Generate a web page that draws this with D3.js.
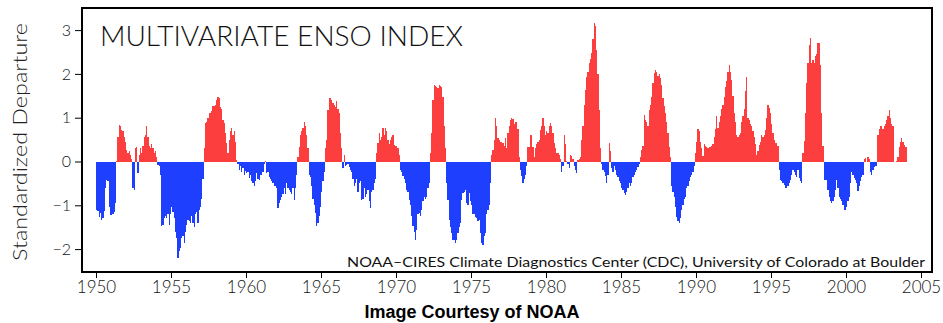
<!DOCTYPE html>
<html lang="en">
<head>
<meta charset="UTF-8">
<title>Multivariate ENSO Index</title>
<style>
    body, html { margin: 0; padding: 0; background: #fff; overflow: hidden; }
    svg { display: block; overflow: visible; }
</style>
</head>
<body>
<svg id="svg" width="943" height="323"></svg>
<script src="https://d3js.org/d3.v7.min.js"></script>
<script>
// monthly MEI values, one row per year
const startYear = 1950
const mei1950s = [
    -1.10, -1.12, -1.26, -1.18, -1.33, -1.29, -1.12, -0.60, -0.42, -0.45, -1.05, -1.22,
    -1.22, -1.20, -1.15, -0.95, 0.02, 0.55, 0.84, 0.80, 0.72, 0.70, 0.55, 0.45,
    0.27, 0.20, 0.25, 0.15, 0.05, -0.60, -0.65, 0.30, 0.34, -0.27, 0.15, 0.30,
    0.20, 0.35, 0.55, 0.60, 0.80, 0.55, 0.35, 0.30, 0.40, 0.30, 0.20, 0.25,
    0.10, -0.08, -0.10, -0.30, -1.48, -1.45, -1.30, -1.25, -1.30, -1.20, -1.45, -1.20,
    -1.05, -1.15, -1.30, -1.60, -1.75, -2.20, -2.05, -1.98, -1.75, -1.70, -1.85, -1.60,
    -1.45, -1.33, -1.35, -1.40, -1.25, -1.40, -1.50, -1.20, -1.15, -1.40, -1.10, -1.05,
    -0.85, -0.40, 0.30, 0.87, 0.90, 1.00, 1.10, 1.10, 1.15, 1.26, 1.26, 1.30,
    1.40, 1.47, 1.45, 1.25, 1.20, 0.95, 0.87, 0.65, 0.42, 0.20, 0.50, 0.70,
    0.76, 0.60, 0.70, 0.45, 0.03, -0.05, -0.20, -0.10, -0.25, -0.15, -0.30, -0.22
]
const mei1960s = [
    -0.27, -0.25, -0.38, -0.30, -0.45, -0.50, -0.55, -0.45, -0.27, -0.40, -0.42, -0.30,
    -0.30, -0.25, -0.05, 0.02, -0.27, -0.25, -0.35, -0.40, -0.45, -0.50, -0.55, -0.57,
    -0.60, -1.07, -0.95, -0.88, -0.80, -0.75, -0.60, -0.75, -0.50, -0.60, -0.65, -0.70,
    -0.75, -0.60, -0.88, -0.60, -0.30, 0.10, 0.34, 0.60, 0.70, 0.76, 0.90, 0.80,
    0.60, 0.30, -0.30, -0.35, -0.57, -0.85, -1.00, -1.18, -1.48, -1.40, -1.25, -1.03,
    -0.70, -0.45, -0.25, 0.30, 0.50, 1.18, 1.45, 1.45, 1.40, 1.33, 1.30, 1.25,
    1.37, 1.20, 1.10, 0.65, 0.30, -0.15, 0.15, -0.10, -0.08, -0.05, -0.12, -0.20,
    -0.25, -0.40, -0.57, -0.50, -0.40, -0.70, -0.50, -0.45, -0.88, -0.85, -0.60, -0.80,
    -0.75, -0.65, -0.90, -1.07, -0.70, -0.65, -0.50, -0.40, 0.20, 0.42, 0.65, 0.50,
    0.55, 0.76, 0.60, 0.76, 0.70, 0.50, 0.40, 0.50, 0.57, 0.60, 0.38, 0.35
]
const mei1970s = [
    0.35, 0.30, 0.15, -0.20, -0.25, -0.34, -0.40, -0.50, -0.65, -0.70, -0.88, -1.00,
    -1.25, -1.48, -1.60, -1.80, -1.56, -1.20, -1.18, -1.25, -1.10, -0.90, -0.80, -0.85,
    -0.80, -0.60, -0.50, 0.20, 0.65, 1.40, 1.75, 1.72, 1.70, 1.68, 1.75, 1.72,
    1.70, 1.48, 0.80, 0.30, -0.50, -0.88, -1.33, -1.50, -1.64, -1.79, -1.80, -1.86,
    -1.80, -1.64, -1.50, -1.40, -0.88, -0.72, -0.70, -0.65, -0.95, -1.00, -0.72, -0.90,
    -1.00, -1.20, -1.20, -1.26, -1.30, -1.35, -1.33, -1.64, -1.85, -1.90, -1.70, -1.64,
    -1.20, -1.10, -1.00, -0.50, 0.15, 0.27, 0.50, 0.99, 0.80, 0.53, 0.50, 0.45,
    0.45, 0.42, 0.35, 0.53, 0.30, 0.65, 0.80, 0.95, 0.99, 0.97, 0.85, 0.91,
    0.91, 0.75, 0.10, -0.20, -0.34, -0.50, -0.40, -0.30, -0.10, 0.34, 0.34, 0.61,
    0.61, 0.34, 0.10, 0.30, 0.40, 0.45, 0.50, 0.72, 0.80, 0.99, 0.80, 0.60
]
const mei1980s = [
    0.70, 0.65, 0.80, 0.87, 0.80, 0.65, 0.42, 0.30, 0.20, 0.20, 0.15, 0.05,
    -0.23, -0.10, 0.61, 0.40, 0.02, -0.05, -0.15, 0.15, 0.12, 0.05, -0.10, -0.20,
    -0.27, 0.04, 0.05, 0.10, 0.50, 0.80, 1.30, 1.64, 1.94, 2.05, 2.24, 2.35,
    2.47, 2.80, 3.16, 3.10, 2.55, 2.00, 1.18, 0.30, -0.05, -0.20, -0.25, -0.34,
    -0.50, -0.30, 0.43, 0.25, -0.15, -0.25, -0.10, -0.20, -0.30, -0.35, -0.45, -0.50,
    -0.60, -0.65, -0.72, -0.76, -0.70, -0.60, -0.50, -0.55, -0.50, -0.35, -0.30, -0.25,
    -0.20, -0.12, -0.05, 0.10, 0.27, 0.35, 1.07, 0.95, 0.90, 0.80, 1.18, 1.30,
    1.48, 1.79, 2.02, 2.09, 2.05, 1.95, 2.00, 1.90, 1.75, 1.45, 1.26, 1.10,
    0.90, 0.65, 0.34, 0.10, -0.57, -0.70, -0.80, -1.03, -1.26, -1.35, -1.41, -1.30,
    -1.10, -1.00, -0.85, -0.80, -0.60, -0.55, -0.45, -0.35, -0.30, -0.25, -0.10, 0.20
]
const mei1990s = [
    0.45, 0.75, 0.70, 0.45, 0.30, 0.12, 0.40, 0.35, 0.32, 0.30, 0.32, 0.33,
    0.35, 0.40, 0.55, 0.75, 1.03, 0.76, 0.90, 1.05, 1.20, 1.30, 1.48, 1.70,
    1.83, 2.05, 2.20, 2.05, 1.86, 1.50, 1.10, 0.90, 0.61, 0.57, 0.60, 0.65,
    0.90, 1.03, 1.20, 1.60, 1.94, 0.99, 0.95, 0.85, 0.80, 0.70, 0.55, 0.40,
    0.15, 0.25, 0.38, 0.45, 0.60, 0.55, 0.60, 0.72, 1.00, 1.29, 1.22, 1.10,
    0.85, 0.65, 0.50, 0.42, 0.42, 0.35, -0.20, -0.42, -0.45, -0.50, -0.53, -0.60,
    -0.61, -0.55, -0.50, -0.42, -0.30, -0.20, -0.25, -0.30, -0.35, -0.20, -0.38, -0.45,
    -0.50, 0.20, 0.46, 1.10, 1.80, 2.24, 2.66, 2.82, 2.24, 2.32, 2.25, 2.40,
    2.45, 2.70, 2.70, 2.20, 1.10, 0.35, -0.42, -0.42, -0.42, -0.65, -0.80, -0.91,
    -0.95, -0.90, -0.80, -0.65, -0.42, -0.60, -0.80, -0.85, -0.91, -1.00, -1.10, -1.10
]
const mei2000s = [
    -1.05, -0.90, -0.80, -0.50, -0.25, -0.30, -0.38, -0.42, -0.50, -0.68, -0.55, -0.45,
    -0.35, -0.30, 0.05, 0.08, 0.00, 0.11, 0.05, -0.25, -0.30, -0.20, -0.12, -0.10,
    -0.10, 0.60, 0.75, 0.80, 0.80, 0.75, 0.80, 0.85, 0.95, 1.03, 1.18, 1.00,
    0.85, 0.80, 0.00, 0.00, 0.02, 0.10, 0.34, 0.45, 0.53, 0.45, 0.38, 0.34,
    0.34
]
const yTicks = [-2, -1, 0, 1, 2, 3]
const xTicks = [1950, 1955, 1960, 1965, 1970, 1975, 1980, 1985, 1990, 1995, 2000, 2005]

const mei = [].concat(mei1950s, mei1960s, mei1970s, mei1980s, mei1990s, mei2000s)

const frame = { left: 82, right: 932, top: 8, bottom: 272 }
const red = '#fc3e3e'
const blue = '#1f3fff'
const lightFont = 'Lato, "Open Sans", "DejaVu Sans", sans-serif'

const x = d3.scaleLinear().domain([1950, 2005]).range([96, 921])
const y = d3.scaleLinear().domain([-2, 3]).range([249.1, 30.1])

const svg = d3.select('#svg')

// bars
svg.append('g')
    .attr('shape-rendering', 'crispEdges')
    .selectAll('rect')
    .data(mei)
    .join('rect')
    .attr('x', (d, i) => x(startYear + i / 12))
    .attr('width', (d, i) => x(startYear + (i + 1) / 12) - x(startYear + i / 12) + 0.2)
    .attr('y', d => y(Math.max(0, d)))
    .attr('height', d => Math.abs(y(d) - y(0)))
    .attr('fill', d => d >= 0 ? red : blue)

// frame
svg.append('rect')
    .attr('x', frame.left)
    .attr('y', frame.top)
    .attr('width', frame.right - frame.left)
    .attr('height', frame.bottom - frame.top)
    .attr('fill', 'none')
    .attr('stroke', '#000')
    .attr('stroke-width', 2)

// axes
const leftAxis = d3.axisLeft(y).tickValues(yTicks).tickFormat(d3.format('d')).tickSize(7).tickPadding(4)
svg.append('g')
    .attr('transform', `translate(${frame.left}, 0)`)
    .call(leftAxis)
    .call(g => g.select('.domain').remove())
    .call(g => g.selectAll('text')
        .attr('font-family', lightFont)
        .attr('font-weight', 300)
        .attr('font-size', 16)
        .attr('fill', '#111'))

const bottomAxis = d3.axisBottom(x).tickValues(xTicks).tickFormat(d3.format('d')).tickSize(6).tickPadding(3)
svg.append('g')
    .attr('transform', `translate(0, ${frame.bottom})`)
    .call(bottomAxis)
    .call(g => g.select('.domain').remove())
    .call(g => g.selectAll('text')
        .attr('font-family', lightFont)
        .attr('font-weight', 300)
        .attr('font-size', 17)
        .attr('fill', '#111'))

// title inside the frame
svg.append('text')
    .attr('x', 100)
    .attr('y', 46)
    .attr('font-family', lightFont)
    .attr('font-weight', 300)
    .attr('font-size', 28)
    .attr('fill', '#111')
    .attr('textLength', 363)
    .attr('lengthAdjust', 'spacingAndGlyphs')
    .text('MULTIVARIATE ENSO INDEX')

// credit line
svg.append('text')
    .attr('x', 347)
    .attr('y', 267)
    .attr('font-family', lightFont)
    .attr('font-size', 14)
    .attr('fill', '#111')
    .attr('textLength', 578)
    .attr('lengthAdjust', 'spacingAndGlyphs')
    .text('NOAA\u2013CIRES Climate Diagnostics Center (CDC), University of Colorado at Boulder')

// y-axis label
svg.append('text')
    .attr('transform', 'rotate(-90)')
    .attr('x', -142)
    .attr('y', 27)
    .attr('text-anchor', 'middle')
    .attr('font-family', lightFont)
    .attr('font-weight', 300)
    .attr('font-size', 19)
    .attr('fill', '#222')
    .attr('textLength', 238)
    .attr('lengthAdjust', 'spacingAndGlyphs')
    .text('Standardized Departure')

// caption below
svg.append('text')
    .attr('x', 472)
    .attr('y', 318)
    .attr('text-anchor', 'middle')
    .attr('font-family', '"Liberation Sans", Arial, sans-serif')
    .attr('font-weight', 'bold')
    .attr('font-size', 18)
    .attr('fill', '#000')
    .text('Image Courtesy of NOAA')
</script>
</body>
</html>
